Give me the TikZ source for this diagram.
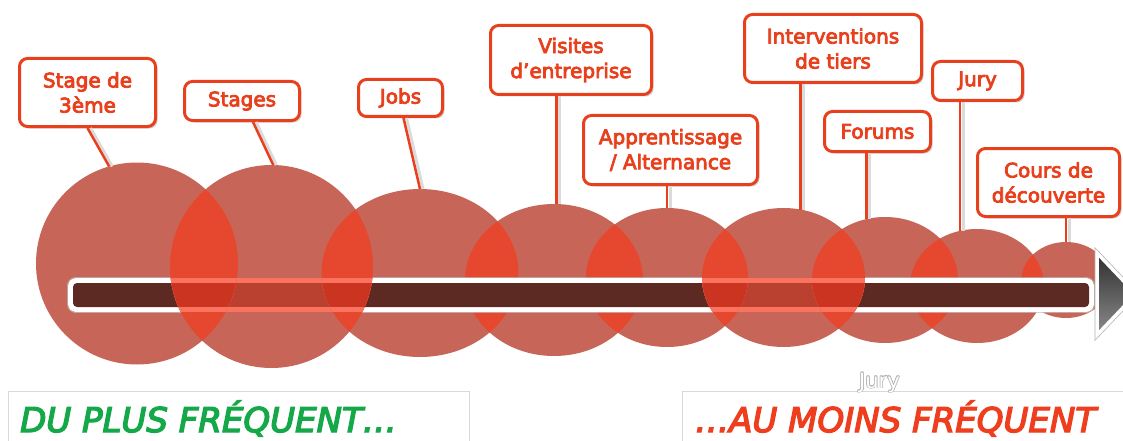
\documentclass[tikz,border=0pt]{standalone}
\usepackage{fontspec}
\setmainfont{DejaVu Sans}
\newfontfamily\labelfont[FakeBold=4]{DejaVu Sans}
\newfontfamily\bigfont[FakeBold=4]{DejaVu Sans}
\usetikzlibrary{shapes.geometric,shadows}
\definecolor{circ}{RGB}{199,102,88}
\definecolor{lensred}{RGB}{229,72,46}
\definecolor{bardark}{RGB}{92,42,35}
\definecolor{barfront}{RGB}{186,64,48}
\definecolor{barlens}{RGB}{203,52,32}
\definecolor{pinkb}{RGB}{250,115,95}
\definecolor{accent}{RGB}{232,64,28}
\definecolor{greentxt}{RGB}{20,168,72}
\definecolor{redtxt}{RGB}{238,62,30}
\tikzset{
  bubble/.style={ellipse, fill=circ, draw=none, inner sep=0pt, outer sep=0pt},
  ghostbubble/.style={ellipse, draw=none, fill=none, inner sep=0pt, outer sep=0pt},
  lbox/.style={draw=accent, line width=3pt, rounded corners=8pt, fill=white,
    text=accent, align=center, inner sep=0pt,
    font=\labelfont\fontsize{20}{25}\selectfont,
    drop shadow={shadow xshift=2pt, shadow yshift=-2pt, opacity=0.18, fill=black}},
  conn/.style={draw=accent, line width=2.5pt},
  connshadow/.style={draw=black!14, line width=3pt, transform canvas={xshift=3pt}},
  bigtxt/.style={anchor=base west, inner sep=0pt, font=\bigfont\itshape\fontsize{34}{40}\selectfont},
  jurystyle/.style={anchor=base, inner sep=0pt, font=\fontsize{21}{24}\selectfont}
}
\newcommand\conn[2]{\draw[connshadow] #1 -- #2; \draw[conn] #1 -- #2;}
\begin{document}
\begin{tikzpicture}[x=1pt,y=-1pt]
\useasboundingbox (0,0) rectangle (1123,441);
\fill[white] (0,0) rectangle (1123,441);
% back circles
\node[bubble, minimum width=202pt, minimum height=202pt] (c1) at (137,263.5) {};
\node[bubble, minimum width=197pt, minimum height=168pt] (c3) at (420,273) {};
\node[bubble, minimum width=178pt, minimum height=152pt] (c4) at (554,280) {};
\node[bubble, minimum width=162pt, minimum height=139pt] (c5) at (667,277.5) {};
\node[bubble, minimum width=146pt, minimum height=126pt] (c7) at (885,280) {};
\node[bubble, minimum width=134pt, minimum height=114pt] (c8) at (977,286) {};
\node[bubble, minimum width=89pt, minimum height=76pt] (c9) at (1066,280) {};
\node[ghostbubble, minimum width=203pt, minimum height=203pt] (c2) at (271.5,266.5) {};
\node[ghostbubble, minimum width=163pt, minimum height=139pt] (c6) at (783.5,277.5) {};
% lenses between back circles
\begin{scope}
  \clip (420,273) ellipse [x radius=98.5pt, y radius=84pt];
  \fill[lensred] (554,280) ellipse [x radius=89pt, y radius=76pt];
\end{scope}
\begin{scope}
  \clip (554,280) ellipse [x radius=89pt, y radius=76pt];
  \fill[lensred] (667,277.5) ellipse [x radius=81pt, y radius=69.5pt];
\end{scope}
\begin{scope}
  \clip (885,280) ellipse [x radius=73pt, y radius=63pt];
  \fill[lensred] (977,286) ellipse [x radius=67pt, y radius=57pt];
\end{scope}
\begin{scope}
  \clip (977,286) ellipse [x radius=67pt, y radius=57pt];
  \fill[lensred] (1066,280) ellipse [x radius=44.5pt, y radius=38pt];
\end{scope}
% bar
\fill[white, rounded corners=8pt] (68,278) rectangle (1094,312);
\draw[black!25, line width=0.5pt, rounded corners=8pt] (67.5,277.5) rectangle (1094.5,312.5);
\fill[bardark, rounded corners=4pt] (73,283) rectangle (1089,307);
% arrow head
\draw[black!30, line width=5pt, line join=miter] (1097,253) -- (1136,294) -- (1097,335) -- cycle;
\path[draw=white, line width=3.5pt, line join=miter, top color=black!82, bottom color=black!45] (1097,253) -- (1136,294) -- (1097,335) -- cycle;
% label boxes
\node[lbox, minimum width=136pt, minimum height=68pt] (b1) at (87.5,92.5) {Stage de\\3ème};
\node[lbox, minimum width=115pt, minimum height=39pt] (b2) at (242,101) {Stages};
\node[lbox, minimum width=84pt, minimum height=37pt] (b3) at (400.5,98) {Jobs};
\node[lbox, minimum width=161pt, minimum height=69pt] (b4) at (571,60) {Visites\\d’entreprise};
\node[lbox, minimum width=174pt, minimum height=69pt] (b5) at (670.5,150) {Apprentissage\\/ Alternance};
\node[lbox, minimum width=177pt, minimum height=68pt] (b6) at (833,48.5) {Interventions\\de tiers};
\node[lbox, minimum width=106pt, minimum height=40pt] (b7) at (877.5,131.5) {Forums};
\node[lbox, minimum width=90pt, minimum height=39pt] (b8) at (977.5,81) {Jury};
\node[lbox, minimum width=142pt, minimum height=68pt] (b9) at (1048.5,182.5) {Cours de\\découverte};
% bottom captions
\draw[black!15, line width=1pt] (8,445) -- (8,391) -- (469,391) -- (469,445);
\draw[black!15, line width=1pt] (682,445) -- (682,391) -- (1130,391);
\node[bigtxt, text=greentxt] (lt) at (20,432) {DU PLUS FRÉQUENT…};
\node[bigtxt, text=redtxt] (rt) at (695,432) {…AU MOINS FRÉQUENT};
% ghost text
\foreach \dx/\dy [count=\i] in {-0.7/0,0.7/0,0/-0.7,0/0.7,-0.5/-0.5,0.5/0.5,-0.5/0.5,0.5/-0.5}
  \node[jurystyle, text=black!30, xshift=\dx pt, yshift=\dy pt, name=jo\i] at (879.5,388) {Jury};
\node[jurystyle, text=white] (ghost) at (879.5,388) {Jury};
% front circle 2 (drawn over the bar)
\fill[circ] (271.5,266.5) ellipse [x radius=101.5pt, y radius=101.5pt];
\begin{scope}
  \clip (271.5,266.5) ellipse [x radius=101.5pt, y radius=101.5pt];
  \fill[pinkb] (60,278) rectangle (1094,312);
  \fill[barfront] (60,283) rectangle (1089,307);
\end{scope}
\begin{scope}
  \clip (271.5,266.5) ellipse [x radius=101.5pt, y radius=101.5pt];
  \clip (137,263.5) ellipse [x radius=101pt, y radius=101pt];
  \fill[lensred] (0,150) rectangle (400,380);
  \fill[pinkb] (60,278) rectangle (1094,312);
  \fill[barlens] (60,283) rectangle (1089,307);
\end{scope}
\begin{scope}
  \clip (271.5,266.5) ellipse [x radius=101.5pt, y radius=101.5pt];
  \clip (420,273) ellipse [x radius=98.5pt, y radius=84pt];
  \fill[lensred] (200,150) rectangle (600,380);
  \fill[pinkb] (60,278) rectangle (1094,312);
  \fill[barlens] (60,283) rectangle (1089,307);
\end{scope}
% front circle 6
\fill[circ] (783.5,277.5) ellipse [x radius=81.5pt, y radius=69.5pt];
\begin{scope}
  \clip (783.5,277.5) ellipse [x radius=81.5pt, y radius=69.5pt];
  \fill[pinkb] (60,278) rectangle (1094,312);
  \fill[barfront] (60,283) rectangle (1089,307);
\end{scope}
\begin{scope}
  \clip (783.5,277.5) ellipse [x radius=81.5pt, y radius=69.5pt];
  \clip (667,277.5) ellipse [x radius=81pt, y radius=69.5pt];
  \fill[lensred] (550,150) rectangle (900,380);
  \fill[pinkb] (60,278) rectangle (1094,312);
  \fill[barlens] (60,283) rectangle (1089,307);
\end{scope}
\begin{scope}
  \clip (783.5,277.5) ellipse [x radius=81.5pt, y radius=69.5pt];
  \clip (885,280) ellipse [x radius=73pt, y radius=63pt];
  \fill[lensred] (650,150) rectangle (1000,380);
  \fill[pinkb] (60,278) rectangle (1094,312);
  \fill[barlens] (60,283) rectangle (1089,307);
\end{scope}
% connectors
\conn{(b1.south)}{(c1.106)}
\conn{([xshift=11pt]b2.south)}{(c2.89)}
\conn{([xshift=3pt]b3.south)}{(c3.north)}
\conn{(b4.south -| c4.88)}{(c4.88)}
\conn{(b5.south -| c5.north)}{(c5.north)}
\conn{(b6.south -| c6.76)}{(c6.76)}
\conn{(b7.south -| c7.107)}{(c7.107)}
\conn{(b8.south -| c8.107)}{(c8.107)}
\conn{(b9.south -| c9.north)}{(c9.north)}
\end{tikzpicture}
\end{document}
